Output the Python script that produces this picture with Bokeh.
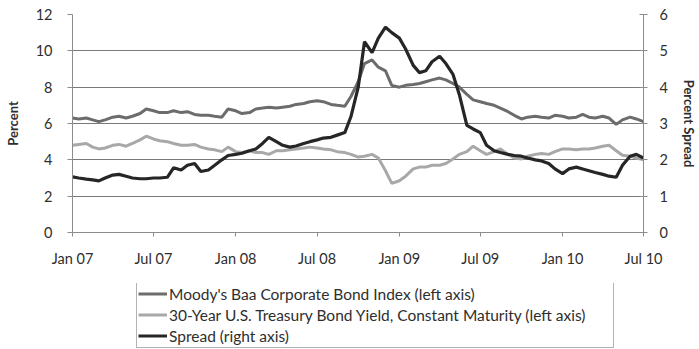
import pandas as pd
from bokeh.plotting import figure
from bokeh.layouts import column
from bokeh.models import Range1d, LinearAxis, FixedTicker, DatetimeTickFormatter, Legend, LegendItem
from bokeh.embed import file_html
from bokeh.resources import INLINE

# semi-monthly observation dates (1st and 15th), Jan 2007 - Jul 2010
dates = pd.date_range("2007-01-01", "2010-07-01", freq="SMS")

baa = [6.3, 6.25, 6.3, 6.2, 6.1, 6.2, 6.35, 6.4, 6.3, 6.4, 6.55, 6.8,
       6.7, 6.6, 6.6, 6.7, 6.6, 6.65, 6.5, 6.45, 6.45, 6.4, 6.35, 6.8,
       6.7, 6.55, 6.6, 6.8, 6.85, 6.9, 6.85, 6.9, 6.95, 7.05, 7.1, 7.2,
       7.25, 7.2, 7.05, 7.0, 6.95, 7.5, 8.3, 9.3, 9.5, 9.1, 8.9, 8.1,
       8.0, 8.1, 8.15, 8.2, 8.3, 8.4, 8.5, 8.4, 8.2, 8.0, 7.6, 7.3,
       7.2, 7.1, 7.0, 6.85, 6.65, 6.45, 6.25, 6.35, 6.4, 6.35, 6.3, 6.45,
       6.4, 6.3, 6.35, 6.5, 6.35, 6.3, 6.4, 6.3, 5.95, 6.2, 6.35, 6.25,
       6.1]

treasury = [4.8, 4.85, 4.9, 4.7, 4.6, 4.65, 4.8, 4.85, 4.75, 4.9, 5.1, 5.3,
            5.15, 5.05, 5.0, 4.9, 4.8, 4.8, 4.85, 4.7, 4.6, 4.55, 4.45, 4.7,
            4.45, 4.4, 4.5, 4.4, 4.4, 4.3, 4.5, 4.5, 4.55, 4.6, 4.65, 4.7,
            4.65, 4.6, 4.55, 4.45, 4.4, 4.3, 4.15, 4.2, 4.3, 4.1, 3.4, 2.7,
            2.85, 3.1, 3.5, 3.6, 3.6, 3.7, 3.7, 3.8, 4.05, 4.3, 4.45, 4.75,
            4.5, 4.3, 4.45, 4.6, 4.3, 4.1, 4.05, 4.2, 4.3, 4.35, 4.3, 4.45,
            4.6, 4.6, 4.55, 4.6, 4.6, 4.65, 4.75, 4.8, 4.5, 4.25, 4.2, 4.1,
            4.0]

spread = [1.53, 1.5, 1.47, 1.45, 1.42, 1.5, 1.58, 1.6, 1.55, 1.5, 1.48, 1.48,
          1.5, 1.5, 1.52, 1.78, 1.72, 1.85, 1.9, 1.68, 1.72, 1.85, 2.0, 2.12,
          2.15, 2.18, 2.25, 2.3, 2.45, 2.62, 2.5, 2.4, 2.35, 2.38, 2.45, 2.5,
          2.55, 2.6, 2.62, 2.68, 2.75, 3.2, 4.0, 5.25, 4.95, 5.35, 5.65, 5.5,
          5.35, 5.05, 4.6, 4.4, 4.45, 4.7, 4.85, 4.65, 4.35, 3.8, 2.95, 2.85,
          2.75, 2.4, 2.25, 2.2, 2.15, 2.12, 2.1, 2.05, 2.0, 1.97, 1.9, 1.75,
          1.62, 1.75, 1.8, 1.75, 1.7, 1.65, 1.6, 1.55, 1.52, 1.85, 2.1, 2.15,
          2.05]

tick_dates = ["2007-01-01", "2007-07-01", "2008-01-01", "2008-07-01",
              "2009-01-01", "2009-07-01", "2010-01-01", "2010-07-01"]
left_ticks = [0, 2, 4, 6, 8, 10, 12]
right_ticks = [0, 1, 2, 3, 4, 5, 6]

labels = ["Moody's Baa Corporate Bond Index (left axis)",
          "30-Year U.S. Treasury Bond Yield, Constant Maturity (left axis)",
          "Spread (right axis)"]

colors = ["#6c6c6c", "#a8a8a8", "#262626"]

def ms(d):
    return pd.Timestamp(d).value / 1e6

FONT = "Lato"
TXT = "#2e2e2e"
AXC = "#8c8c8c"
TICK_FS = "14.5px"
TITLE_FS = "13px"

# ---------------- main chart ----------------
p = figure(width=699, height=270, x_axis_type="datetime",
           x_range=Range1d(ms(tick_dates[0]), ms(tick_dates[-1])),
           y_range=Range1d(0, 12),
           output_backend="svg", toolbar_location=None,
           min_border_left=72, min_border_right=52, min_border_top=14,
           min_border_bottom=38)
p.outline_line_color = None
p.background_fill_color = "white"
p.extra_y_ranges = {"spread": Range1d(0, 6)}

xa = p.xaxis[0]
xa.ticker = FixedTicker(ticks=[ms(d) for d in tick_dates])
xa.formatter = DatetimeTickFormatter(months="%b %y", days="%b %y", years="%b %y")
xa.major_tick_out = 4
xa.major_tick_in = 0
xa.minor_tick_out = 0
xa.minor_tick_in = 0
xa.axis_line_color = AXC
xa.major_tick_line_color = AXC
xa.major_label_standoff = 13
xa.major_label_text_font = FONT
xa.major_label_text_font_size = TICK_FS
xa.major_label_text_color = TXT

ya = p.yaxis[0]
ya.ticker = FixedTicker(ticks=left_ticks)
ya.axis_label = "Percent"
ya.major_tick_out = 5
ya.major_tick_in = 0
ya.minor_tick_out = 0
ya.axis_line_color = AXC
ya.major_tick_line_color = AXC
ya.major_label_standoff = 15
ya.axis_label_standoff = 12
ya.major_label_text_font = FONT
ya.major_label_text_font_size = TICK_FS
ya.major_label_text_color = TXT
ya.axis_label_text_font = FONT
ya.axis_label_text_font_size = TITLE_FS
ya.axis_label_text_font_style = "bold"
ya.axis_label_text_color = TXT

ra = LinearAxis(y_range_name="spread", ticker=FixedTicker(ticks=right_ticks),
                axis_label="Percent Spread")
ra.major_tick_out = 4
ra.major_tick_in = 4
ra.minor_tick_out = 0
ra.minor_tick_in = 0
ra.axis_line_color = AXC
ra.major_tick_line_color = AXC
ra.major_label_standoff = 12
ra.axis_label_standoff = 10
ra.major_label_text_font = FONT
ra.major_label_text_font_size = TICK_FS
ra.major_label_text_color = TXT
ra.axis_label_text_font = FONT
ra.axis_label_text_font_size = TITLE_FS
ra.axis_label_text_font_style = "bold"
ra.axis_label_text_color = TXT
p.add_layout(ra, "right")

p.xgrid.visible = False
p.ygrid.ticker = FixedTicker(ticks=left_ticks)
p.ygrid.grid_line_color = "#7a7a7a"
p.ygrid.grid_line_width = 1

p.line(dates, baa, line_color=colors[0], line_width=3)
p.line(dates, treasury, line_color=colors[1], line_width=3)
p.line(dates, spread, line_color=colors[2], line_width=3.2, y_range_name="spread")

# ---------------- legend strip below the chart ----------------
# same frame columns as the chart; the series are drawn there out of view
lg = figure(width=699, height=79, x_axis_type="datetime",
            x_range=Range1d(0, 1), y_range=Range1d(0, 1),
            x_axis_location=None, y_axis_location=None,
            output_backend="svg", toolbar_location=None,
            min_border_left=72, min_border_right=52, min_border_top=13,
            min_border_bottom=1)
lg.xgrid.visible = False
lg.ygrid.visible = False
lg.outline_line_color = None
lg.background_fill_color = "white"
l1 = lg.line(dates, baa, line_color=colors[0], line_width=3)
l2 = lg.line(dates, treasury, line_color=colors[1], line_width=3)
l3 = lg.line(dates, spread, line_color=colors[2], line_width=3)

legend = Legend(items=[LegendItem(label=labels[0], renderers=[l1]),
                       LegendItem(label=labels[1], renderers=[l2]),
                       LegendItem(label=labels[2], renderers=[l3])],
                location=(64, 0), orientation="vertical")
legend.label_text_font = FONT
legend.label_text_font_size = "15.5px"
legend.label_text_color = TXT
legend.glyph_width = 29
legend.glyph_height = 21
legend.label_height = 21
legend.label_width = 443
legend.label_standoff = 2
legend.spacing = 0
legend.padding = 1
legend.margin = 0
legend.border_line_color = "#666666"
legend.border_line_width = 1
legend.background_fill_color = "white"
legend.background_fill_alpha = 1
lg.add_layout(legend)

layout = column(p, lg, spacing=0)
open("out.html", "w").write(file_html(layout, INLINE))
